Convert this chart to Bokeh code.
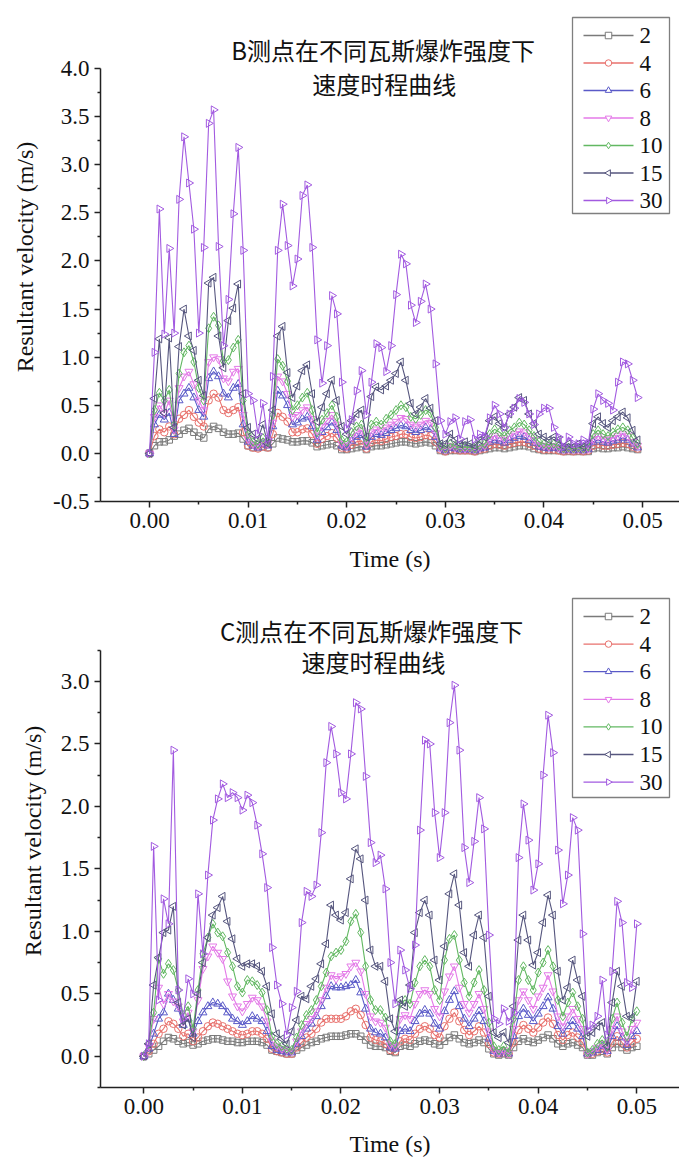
import numpy as np
from bokeh.plotting import figure
from bokeh.models import Range1d, FixedTicker, PrintfTickFormatter, Label
from bokeh.layouts import column
from bokeh.embed import file_html
from bokeh.resources import INLINE
from bokeh.core.properties import value

# ---------------- data ----------------
series_names = ["2", "4", "6", "8", "10", "15", "30"]
dt = 0.0005

# Panel B (measuring point B)
B2 = [0, 0.08, 0.12, 0.12, 0.14, 0.18, 0.20, 0.24, 0.26, 0.22,
      0.18, 0.16, 0.25, 0.28, 0.26, 0.22, 0.20, 0.20, 0.21, 0.15,
      0.08, 0.06, 0.06, 0.07, 0.06, 0.10, 0.16, 0.15, 0.14, 0.12,
      0.12, 0.13, 0.13, 0.11, 0.07, 0.08, 0.09, 0.10, 0.08, 0.04,
      0.04, 0.05, 0.06, 0.07, 0.04, 0.07, 0.08, 0.08, 0.09, 0.10,
      0.11, 0.12, 0.12, 0.11, 0.10, 0.11, 0.12, 0.11, 0.08, 0.03,
      0.02, 0.03, 0.03, 0.03, 0.03, 0.03, 0.02, 0.03, 0.04, 0.05,
      0.06, 0.06, 0.05, 0.06, 0.07, 0.08, 0.08, 0.07, 0.05, 0.04,
      0.03, 0.03, 0.03, 0.03, 0.02, 0.02, 0.02, 0.02, 0.02, 0.02,
      0.05, 0.06, 0.05, 0.05, 0.06, 0.06, 0.07, 0.06, 0.05, 0.04]
B4 = [0, 0.18, 0.25, 0.22, 0.28, 0.20, 0.36, 0.40, 0.45, 0.38,
      0.32, 0.28, 0.55, 0.62, 0.58, 0.45, 0.42, 0.45, 0.48, 0.22,
      0.08, 0.06, 0.05, 0.07, 0.06, 0.20, 0.42, 0.38, 0.33, 0.22,
      0.22, 0.25, 0.26, 0.20, 0.10, 0.15, 0.18, 0.21, 0.16, 0.06,
      0.05, 0.09, 0.12, 0.13, 0.05, 0.12, 0.14, 0.13, 0.15, 0.17,
      0.18, 0.20, 0.20, 0.17, 0.16, 0.17, 0.19, 0.18, 0.12, 0.04,
      0.02, 0.04, 0.04, 0.03, 0.03, 0.03, 0.02, 0.04, 0.05, 0.08,
      0.10, 0.09, 0.08, 0.10, 0.11, 0.12, 0.12, 0.10, 0.08, 0.05,
      0.04, 0.04, 0.04, 0.03, 0.02, 0.03, 0.02, 0.03, 0.02, 0.03,
      0.08, 0.10, 0.08, 0.08, 0.09, 0.10, 0.11, 0.10, 0.07, 0.05]
B6 = [0, 0.30, 0.40, 0.35, 0.42, 0.20, 0.55, 0.62, 0.68, 0.58,
      0.45, 0.38, 0.78, 0.85, 0.80, 0.62, 0.58, 0.68, 0.72, 0.30,
      0.12, 0.08, 0.06, 0.10, 0.08, 0.28, 0.65, 0.60, 0.50, 0.30,
      0.32, 0.36, 0.38, 0.28, 0.14, 0.22, 0.27, 0.32, 0.24, 0.08,
      0.06, 0.13, 0.17, 0.19, 0.07, 0.17, 0.20, 0.19, 0.21, 0.24,
      0.26, 0.29, 0.28, 0.24, 0.22, 0.24, 0.27, 0.25, 0.17, 0.05,
      0.03, 0.06, 0.05, 0.04, 0.04, 0.04, 0.03, 0.05, 0.06, 0.12,
      0.14, 0.13, 0.11, 0.14, 0.16, 0.18, 0.17, 0.14, 0.11, 0.07,
      0.06, 0.05, 0.06, 0.05, 0.03, 0.04, 0.03, 0.04, 0.03, 0.04,
      0.12, 0.14, 0.12, 0.11, 0.13, 0.14, 0.16, 0.14, 0.10, 0.06]
B8 = [0, 0.38, 0.50, 0.42, 0.55, 0.25, 0.68, 0.80, 0.85, 0.72,
      0.55, 0.45, 0.95, 1.00, 0.98, 0.78, 0.75, 0.85, 0.88, 0.40,
      0.15, 0.10, 0.08, 0.12, 0.10, 0.32, 0.80, 0.75, 0.62, 0.38,
      0.40, 0.45, 0.48, 0.36, 0.18, 0.28, 0.34, 0.40, 0.30, 0.10,
      0.08, 0.17, 0.22, 0.24, 0.09, 0.22, 0.25, 0.24, 0.27, 0.30,
      0.33, 0.37, 0.36, 0.30, 0.28, 0.30, 0.34, 0.32, 0.21, 0.06,
      0.04, 0.08, 0.06, 0.05, 0.05, 0.05, 0.04, 0.06, 0.08, 0.15,
      0.18, 0.16, 0.14, 0.18, 0.20, 0.23, 0.22, 0.18, 0.14, 0.09,
      0.08, 0.07, 0.08, 0.06, 0.04, 0.05, 0.04, 0.05, 0.04, 0.05,
      0.15, 0.18, 0.15, 0.14, 0.16, 0.18, 0.20, 0.18, 0.12, 0.08]
B10 = [0, 0.45, 0.63, 0.55, 0.66, 0.30, 0.83, 1.05, 1.12, 0.95,
       0.68, 0.55, 1.30, 1.42, 1.33, 0.96, 0.97, 1.10, 1.18, 0.55,
       0.20, 0.12, 0.10, 0.16, 0.12, 0.40, 0.98, 0.91, 0.75, 0.45,
       0.50, 0.58, 0.63, 0.45, 0.22, 0.35, 0.42, 0.50, 0.38, 0.14,
       0.12, 0.22, 0.28, 0.30, 0.12, 0.30, 0.33, 0.30, 0.36, 0.40,
       0.45, 0.50, 0.48, 0.38, 0.36, 0.40, 0.45, 0.42, 0.27, 0.08,
       0.05, 0.10, 0.08, 0.06, 0.07, 0.06, 0.05, 0.08, 0.10, 0.20,
       0.25, 0.22, 0.18, 0.24, 0.27, 0.32, 0.30, 0.24, 0.18, 0.12,
       0.10, 0.09, 0.10, 0.08, 0.05, 0.06, 0.05, 0.06, 0.05, 0.07,
       0.20, 0.24, 0.20, 0.18, 0.22, 0.25, 0.27, 0.24, 0.16, 0.10]
B15 = [0, 0.57, 1.19, 0.42, 1.20, 0.27, 1.11, 1.50, 1.22, 1.07,
       0.76, 0.60, 1.77, 1.83, 1.22, 0.89, 1.38, 1.51, 1.76, 0.62,
       0.27, 0.20, 0.15, 0.30, 0.10, 0.45, 1.22, 1.32, 0.84, 0.58,
       0.70, 0.86, 0.92, 0.62, 0.33, 0.48, 0.62, 0.76, 0.55, 0.28,
       0.20, 0.34, 0.41, 0.45, 0.17, 0.59, 0.69, 0.66, 0.70, 0.76,
       0.83, 0.95, 0.76, 0.52, 0.41, 0.48, 0.57, 0.47, 0.34, 0.10,
       0.10, 0.20, 0.14, 0.10, 0.12, 0.10, 0.08, 0.14, 0.17, 0.34,
       0.38, 0.31, 0.27, 0.41, 0.48, 0.58, 0.55, 0.41, 0.31, 0.20,
       0.17, 0.14, 0.17, 0.14, 0.07, 0.10, 0.07, 0.10, 0.07, 0.10,
       0.31, 0.38, 0.31, 0.27, 0.34, 0.38, 0.43, 0.37, 0.24, 0.14]
B30 = [0, 1.05, 2.54, 1.24, 2.13, 1.25, 2.64, 3.29, 2.81, 2.33,
       1.25, 2.14, 3.43, 3.57, 2.15, 1.12, 1.60, 2.49, 3.18, 2.11,
       0.62, 0.55, 0.20, 0.52, 0.15, 0.80, 2.11, 2.59, 2.16, 1.74,
       2.02, 2.68, 2.79, 2.14, 1.18, 0.73, 1.12, 1.64, 1.45, 0.74,
       0.26, 0.35, 0.65, 0.86, 0.40, 0.74, 1.14, 1.10, 0.85, 1.12,
       1.65, 2.07, 1.97, 1.54, 1.36, 1.58, 1.76, 1.50, 0.93, 0.34,
       0.20, 0.33, 0.37, 0.15, 0.33, 0.35, 0.15, 0.20, 0.18, 0.37,
       0.50, 0.41, 0.27, 0.41, 0.47, 0.57, 0.53, 0.41, 0.30, 0.41,
       0.47, 0.47, 0.27, 0.17, 0.07, 0.17, 0.10, 0.10, 0.14, 0.10,
       0.46, 0.62, 0.55, 0.52, 0.45, 0.74, 0.95, 0.93, 0.76, 0.58]

# Panel C (measuring point C)
C2 = [0, 0.02, 0.05, 0.08, 0.12, 0.15, 0.14, 0.12, 0.10, 0.11,
      0.09, 0.10, 0.12, 0.13, 0.14, 0.14, 0.13, 0.12, 0.12, 0.11,
      0.11, 0.12, 0.12, 0.12, 0.11, 0.09, 0.05, 0.04, 0.03, 0.02,
      0.02, 0.05, 0.07, 0.09, 0.11, 0.12, 0.14, 0.15, 0.16, 0.16,
      0.16, 0.17, 0.18, 0.18, 0.16, 0.13, 0.09, 0.08, 0.08, 0.07,
      0.04, 0.03, 0.08, 0.09, 0.08, 0.10, 0.12, 0.13, 0.12, 0.10,
      0.09, 0.12, 0.15, 0.17, 0.14, 0.11, 0.10, 0.11, 0.13, 0.11,
      0.06, 0.02, 0.01, 0.02, 0.01, 0.07, 0.12, 0.14, 0.12, 0.11,
      0.13, 0.15, 0.17, 0.14, 0.10, 0.08, 0.10, 0.11, 0.09, 0.07,
      0.01, 0.01, 0.03, 0.04, 0.02, 0.07, 0.10, 0.07, 0.05, 0.07, 0.08]
C4 = [0, 0.04, 0.10, 0.18, 0.22, 0.28, 0.26, 0.22, 0.16, 0.18,
      0.12, 0.15, 0.20, 0.24, 0.27, 0.26, 0.24, 0.22, 0.20, 0.18,
      0.17, 0.18, 0.20, 0.20, 0.18, 0.14, 0.06, 0.04, 0.03, 0.02,
      0.02, 0.07, 0.11, 0.15, 0.18, 0.22, 0.27, 0.30, 0.30, 0.30,
      0.30, 0.32, 0.36, 0.38, 0.33, 0.25, 0.15, 0.13, 0.12, 0.10,
      0.05, 0.04, 0.12, 0.14, 0.13, 0.18, 0.22, 0.24, 0.22, 0.17,
      0.15, 0.24, 0.30, 0.35, 0.28, 0.21, 0.17, 0.20, 0.24, 0.19,
      0.10, 0.03, 0.02, 0.03, 0.02, 0.11, 0.21, 0.25, 0.22, 0.19,
      0.23, 0.27, 0.31, 0.26, 0.17, 0.13, 0.17, 0.19, 0.15, 0.11,
      0.02, 0.02, 0.04, 0.06, 0.03, 0.11, 0.16, 0.11, 0.07, 0.11, 0.14]
C6 = [0, 0.06, 0.18, 0.30, 0.35, 0.50, 0.45, 0.38, 0.25, 0.30,
      0.18, 0.28, 0.35, 0.40, 0.43, 0.42, 0.40, 0.35, 0.30, 0.28,
      0.25, 0.28, 0.32, 0.30, 0.28, 0.20, 0.08, 0.05, 0.04, 0.03,
      0.03, 0.10, 0.16, 0.22, 0.26, 0.32, 0.40, 0.48, 0.56, 0.55,
      0.55, 0.56, 0.57, 0.61, 0.51, 0.38, 0.22, 0.19, 0.18, 0.15,
      0.07, 0.06, 0.20, 0.22, 0.20, 0.28, 0.34, 0.37, 0.34, 0.26,
      0.22, 0.36, 0.45, 0.52, 0.40, 0.30, 0.24, 0.30, 0.36, 0.28,
      0.14, 0.04, 0.02, 0.04, 0.02, 0.16, 0.32, 0.38, 0.33, 0.28,
      0.34, 0.40, 0.47, 0.38, 0.24, 0.18, 0.24, 0.28, 0.22, 0.16,
      0.02, 0.03, 0.05, 0.08, 0.04, 0.16, 0.24, 0.15, 0.09, 0.16, 0.20]
C8 = [0, 0.08, 0.30, 0.55, 0.42, 0.50, 0.44, 0.40, 0.28, 0.35,
      0.20, 0.45, 0.70, 0.80, 0.88, 0.83, 0.78, 0.60, 0.48, 0.40,
      0.36, 0.42, 0.47, 0.45, 0.40, 0.28, 0.12, 0.08, 0.06, 0.05,
      0.04, 0.12, 0.20, 0.26, 0.30, 0.36, 0.45, 0.55, 0.65, 0.62,
      0.64, 0.66, 0.72, 0.75, 0.68, 0.50, 0.32, 0.28, 0.27, 0.23,
      0.09, 0.08, 0.30, 0.33, 0.30, 0.42, 0.50, 0.53, 0.50, 0.38,
      0.32, 0.52, 0.64, 0.72, 0.55, 0.42, 0.35, 0.42, 0.50, 0.38,
      0.20, 0.05, 0.03, 0.05, 0.02, 0.22, 0.45, 0.52, 0.45, 0.38,
      0.48, 0.55, 0.65, 0.52, 0.32, 0.24, 0.32, 0.38, 0.30, 0.22,
      0.02, 0.04, 0.07, 0.10, 0.05, 0.22, 0.32, 0.20, 0.12, 0.22, 0.27]
C10 = [0, 0.10, 0.35, 0.78, 0.66, 0.74, 0.69, 0.53, 0.33, 0.40,
       0.22, 0.53, 0.82, 0.95, 1.06, 0.99, 0.96, 0.83, 0.72, 0.56,
       0.51, 0.61, 0.60, 0.57, 0.51, 0.37, 0.16, 0.10, 0.08, 0.06,
       0.05, 0.15, 0.25, 0.33, 0.37, 0.45, 0.56, 0.67, 0.80, 0.83,
       0.85, 0.92, 1.08, 1.14, 0.99, 0.72, 0.45, 0.37, 0.37, 0.31,
       0.12, 0.10, 0.42, 0.45, 0.42, 0.59, 0.72, 0.77, 0.72, 0.53,
       0.45, 0.77, 0.94, 0.97, 0.77, 0.59, 0.48, 0.59, 0.69, 0.53,
       0.27, 0.08, 0.05, 0.08, 0.03, 0.30, 0.61, 0.72, 0.61, 0.53,
       0.67, 0.75, 0.85, 0.72, 0.45, 0.32, 0.43, 0.51, 0.40, 0.30,
       0.03, 0.05, 0.10, 0.13, 0.08, 0.30, 0.43, 0.27, 0.16, 0.30, 0.36]
C15 = [0, 0.10, 0.57, 0.79, 0.99, 1.01, 1.20, 0.43, 0.25, 0.30,
       0.15, 0.50, 0.75, 0.95, 1.13, 1.19, 1.28, 1.08, 0.94, 0.78,
       0.72, 0.74, 0.74, 0.72, 0.68, 0.56, 0.34, 0.18, 0.14, 0.10,
       0.20, 0.29, 0.48, 0.46, 0.56, 0.62, 0.74, 0.90, 1.21, 1.13,
       1.09, 1.15, 1.42, 1.66, 1.58, 1.25, 0.85, 0.72, 0.72, 0.60,
       0.30, 0.20, 0.45, 0.40, 0.57, 0.99, 1.15, 1.25, 1.13, 0.77,
       0.61, 0.88, 1.30, 1.46, 1.21, 0.83, 0.72, 0.97, 1.13, 0.95,
       0.48, 0.19, 0.15, 0.19, 0.11, 0.40, 0.93, 1.13, 0.93, 0.73,
       0.83, 1.07, 1.29, 1.13, 0.68, 0.45, 0.55, 0.77, 0.61, 0.48,
       0.16, 0.19, 0.24, 0.27, 0.08, 0.43, 0.68, 0.56, 0.32, 0.31, 0.60]
C30 = [0, 0.10, 1.68, 0.45, 1.26, 1.06, 2.45, 0.53, 0.30, 0.62,
       0.50, 1.30, 0.82, 1.45, 1.89, 2.06, 2.18, 2.07, 2.11, 2.07,
       1.97, 2.09, 2.03, 1.85, 1.62, 1.35, 0.87, 0.57, 0.42, 0.17,
       0.39, 0.52, 1.07, 1.32, 1.28, 1.37, 1.79, 2.35, 2.64, 2.42,
       2.11, 2.06, 2.42, 2.83, 2.78, 2.24, 1.71, 1.55, 1.61, 1.34,
       0.75, 0.42, 0.85, 0.69, 0.54, 0.89, 1.81, 2.53, 2.50, 1.95,
       1.59, 1.95, 2.67, 2.97, 2.45, 1.67, 1.39, 1.72, 2.07, 1.82,
       0.97, 0.30, 0.26, 0.38, 0.28, 0.35, 1.59, 2.02, 1.73, 1.33,
       1.54, 2.25, 2.73, 2.43, 1.65, 1.22, 1.45, 1.91, 1.81, 0.98,
       0.21, 0.25, 0.32, 0.61, 0.17, 0.68, 1.24, 1.07, 0.59, 0.55, 1.06]

B_data = [B2, B4, B6, B8, B10, B15, B30]
C_data = [C2, C4, C6, C8, C10, C15, C30]

x_ticks = [0.0, 0.01, 0.02, 0.03, 0.04, 0.05]
x_minor = [0.005, 0.015, 0.025, 0.035, 0.045]
B_yticks = [-0.5, 0.0, 0.5, 1.0, 1.5, 2.0, 2.5, 3.0, 3.5, 4.0]
B_yminor = [-0.25, 0.25, 0.75, 1.25, 1.75, 2.25, 2.75, 3.25, 3.75]
C_yticks = [0.0, 0.5, 1.0, 1.5, 2.0, 2.5, 3.0]
C_yminor = [-0.25, 0.25, 0.75, 1.25, 1.75, 2.25, 2.75, 3.25]

B_title = ["B测点在不同瓦斯爆炸强度下", "速度时程曲线"]
C_title = ["C测点在不同瓦斯爆炸强度下", "速度时程曲线"]

# ---------------- styles ----------------
colors = ["#7a7a7a", "#e8706c", "#5a5ac8", "#e47ae8", "#62b862", "#56567e", "#a25ae0"]
markers = ["square", "circle", "triangle", "inverted_triangle", "diamond", "triangle", "triangle"]
angles = [0, 0, 0, 0, 0, np.pi / 2, -np.pi / 2]
msizes = [6.5, 7.5, 8, 8, 9, 8, 8]
SERIF = "Liberation Serif"
CJK = "Noto Sans CJK SC"


def style_axis(ax, size_tick="23px", size_label="24px"):
    ax.major_label_text_font = SERIF
    ax.major_label_text_font_size = size_tick
    ax.major_label_text_color = "#111111"
    ax.axis_label_text_font = SERIF
    ax.axis_label_text_font_size = size_label
    ax.axis_label_text_font_style = "normal"
    ax.axis_label_text_color = "#111111"
    ax.axis_line_width = 1.5
    ax.axis_line_color = "#222222"
    ax.major_tick_line_width = 1.5
    ax.minor_tick_line_width = 1.5
    ax.major_tick_line_color = "#222222"
    ax.minor_tick_line_color = "#222222"
    ax.major_tick_out = 6
    ax.major_tick_in = 0
    ax.minor_tick_out = 3
    ax.minor_tick_in = 0
    ax.major_label_standoff = 5


def make_panel(data, yticks, yminor, ybounds, yrange, xrange, title, title_xy,
               width, height, bl, bt, bb, leg_box, leg_row0, leg_step, xlab_standoff):
    p = figure(width=width, height=height, output_backend="svg", toolbar_location=None,
               x_range=Range1d(*xrange), y_range=Range1d(*yrange),
               min_border_left=bl, min_border_right=0, min_border_top=bt,
               min_border_bottom=bb)
    p.grid.visible = False
    p.outline_line_color = None
    p.background_fill_color = "white"

    # pixel (figure coords) -> data helpers for the frame
    fl, fr, ft, fb = bl, width, bt, height - bb
    def px2x(px):
        return xrange[0] + (px - fl) * (xrange[1] - xrange[0]) / (fr - fl)
    def py2y(py):
        return yrange[1] - (py - ft) * (yrange[1] - yrange[0]) / (fb - ft)

    t = np.round(np.arange(len(data[0])) * dt, 5)
    for name, vals, c, m, a, s in zip(series_names, data, colors, markers, angles, msizes):
        p.line(t, vals, line_color=c, line_width=1.1)
        p.scatter(t, vals, marker=m, angle=a, size=s, line_color=c,
                  fill_color=None, line_width=1.0)

    # ---- legend (drawn manually so the rotated triangles keep their direction)
    L, R, T, B = leg_box
    p.quad(left=[px2x(L)], right=[px2x(R)], top=[py2y(T)], bottom=[py2y(B)],
           fill_color="white", line_color="#7f7f7f", line_width=1.3)
    gx0, gx1, tx = L + 11, L + 61, L + 67
    for i, (name, c, m, a) in enumerate(zip(series_names, colors, markers, angles)):
        ry = py2y(leg_row0 + i * leg_step)
        p.segment(x0=[px2x(gx0)], y0=[ry], x1=[px2x(gx1)], y1=[ry], line_color=c, line_width=1.3)
        p.scatter([px2x((gx0 + gx1) / 2)], [ry], marker=m, angle=a, size=6.5, line_color=c,
                  fill_color="white", line_width=1.0)
        p.text([px2x(tx)], [ry], text=[name], text_font=value(SERIF),
               text_font_size=value("23px"), text_baseline="middle", text_align="left",
               text_color="#111111")

    xa = p.xaxis[0]
    xa.ticker = FixedTicker(ticks=x_ticks, minor_ticks=x_minor)
    xa.formatter = PrintfTickFormatter(format="%.2f")
    xa.axis_label = "Time (s)"
    style_axis(xa)
    xa.axis_label_standoff = xlab_standoff

    ya = p.yaxis[0]
    ya.ticker = FixedTicker(ticks=yticks, minor_ticks=yminor)
    ya.formatter = PrintfTickFormatter(format="%.1f")
    ya.bounds = ybounds
    ya.axis_label = "Resultant velocity (m/s)"
    style_axis(ya)
    ya.axis_label_standoff = 12

    for line, (tx_, ty_) in zip(title, title_xy):
        p.add_layout(Label(x=tx_, y=ty_, text=line, text_font=CJK, text_font_size="24px",
                           text_align="center", text_baseline="middle",
                           text_color="#111111"))
    return p


pB = make_panel(B_data, B_yticks, B_yminor,
                (-0.5, 4.0), (-0.5, 4.582), (-0.00497, 0.05375), B_title,
                [(0.0237, 4.20), (0.0238, 3.84)],
                679, 588, 100, 12, 87,
                (572, 669, 17, 213), 35, 27.5, 15)
pC = make_panel(C_data, C_yticks, C_yminor,
                (-0.25, 3.25), (-0.25, 3.696), (-0.00439, 0.05433), C_title,
                [(0.0231, 3.41), (0.0233, 3.16)],
                679, 575, 100, 6, 76,
                (572, 669, 10, 209), 28, 27.6, 14)

layout = column(pB, pC)
open("out.html", "w").write(file_html(layout, INLINE))
